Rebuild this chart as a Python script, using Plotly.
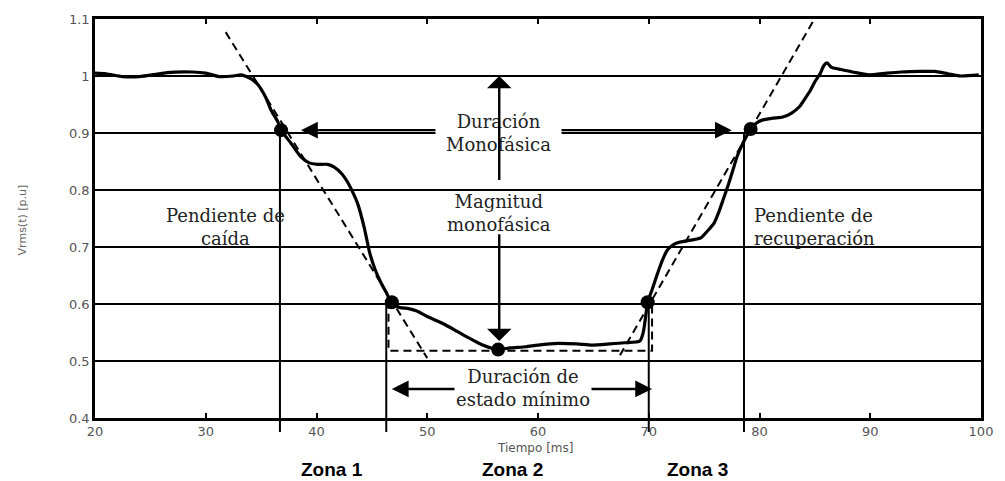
import plotly.graph_objects as go

# RMS voltage during a single-phase sag (time in ms, magnitude in p.u.)
t_ms = [20.0, 21.0, 22.5, 24.0, 25.5, 26.5, 28.8, 30.0, 31.2, 32.5, 33.2, 34.1, 34.7,
        35.4, 35.9, 36.5, 36.8, 37.7, 38.6, 39.3, 40.1, 41.0, 41.6, 42.3, 42.8, 43.3,
        43.7, 44.3, 44.8, 45.3, 45.7, 46.3, 46.8, 47.5, 48.3, 49.0, 50.0, 51.5, 52.7,
        53.8, 55.0, 56.4, 57.5, 58.9, 60.0, 61.8, 63.5, 64.9, 66.5, 67.8, 69.2, 69.5,
        69.7, 69.9, 70.3, 70.8, 71.3, 71.7, 72.3, 72.9, 73.8, 74.7, 75.3, 75.9, 76.3,
        76.7, 77.2, 77.6, 78.0, 78.5, 79.2, 79.7, 80.3, 81.2, 82.1, 82.9, 83.6, 84.1,
        84.6, 85.0, 85.5, 85.8, 86.1, 86.5, 87.2, 88.4, 89.9, 91.5, 92.8, 94.5, 95.8,
        97.0, 98.2, 99.8]
vrms = [1.005, 1.004, 0.999, 0.999, 1.003, 1.006, 1.007, 1.005, 0.999, 1.0, 1.002, 0.995,
        0.985, 0.963, 0.94, 0.92, 0.905, 0.882, 0.858, 0.848, 0.845, 0.845, 0.84, 0.828,
        0.814, 0.795, 0.777, 0.735, 0.69, 0.66, 0.642, 0.62, 0.603, 0.594, 0.592, 0.588,
        0.578, 0.565, 0.552, 0.54, 0.528, 0.52, 0.523, 0.525, 0.528, 0.531, 0.53, 0.528,
        0.53, 0.532, 0.535, 0.55, 0.575, 0.603, 0.625, 0.654, 0.68, 0.695, 0.705, 0.709,
        0.712, 0.716, 0.728, 0.742, 0.76, 0.782, 0.81, 0.835, 0.86, 0.882, 0.907, 0.917,
        0.923, 0.926, 0.928, 0.935, 0.946, 0.96, 0.975, 0.99, 1.005, 1.018, 1.023, 1.015,
        1.012, 1.007, 1.002, 1.005, 1.007, 1.008, 1.008, 1.004, 1.0, 1.002]

# Characteristic points: 90 % crossings, 60 % crossings and minimum
key_t = [36.8, 46.8, 56.4, 69.9, 79.2]
key_v = [0.905, 0.603, 0.52, 0.603, 0.907]

# Fall and recovery slope approximations
fall_t = [31.8, 50.0]
fall_v = [1.077, 0.505]
rise_t = [67.4, 84.9]
rise_v = [0.51, 1.098]

# Minimum-state box
box_t = [46.8, 46.5, 46.5, 70.3, 70.3, 69.9]
box_v = [0.6, 0.6, 0.518, 0.518, 0.6, 0.6]

# Zone boundaries (drop lines) and the level each starts from
zone_t = [36.7, 46.3, 70.0, 78.6]
zone_v = [0.9, 0.6, 0.6, 0.9]

x_ticks = [20, 30, 40, 50, 60, 70, 80, 90, 100]
y_ticks = [0.4, 0.5, 0.6, 0.7, 0.8, 0.9, 1.0, 1.1]
y_tick_text = ["0.4", "0.5", "0.6", "0.7", "0.8", "0.9", "1", "1.1"]

zones = ["Zona 1", "Zona 2", "Zona 3"]
zone_label_t = [41.4, 57.7, 74.4]

Y0, Y1 = 0.4, 1.1
dash = "8px,5px"

fig = go.Figure()
fig.add_trace(go.Scatter(x=fall_t, y=fall_v, mode="lines",
                         line=dict(color="black", width=2, dash=dash), hoverinfo="skip"))
fig.add_trace(go.Scatter(x=rise_t, y=rise_v, mode="lines",
                         line=dict(color="black", width=2, dash=dash), hoverinfo="skip"))
fig.add_trace(go.Scatter(x=box_t, y=box_v, mode="lines",
                         line=dict(color="black", width=2, dash=dash), hoverinfo="skip"))
fig.add_trace(go.Scatter(x=t_ms, y=vrms, mode="lines",
                         line=dict(color="black", width=3.2, shape="spline", smoothing=0.6)))
fig.add_trace(go.Scatter(x=key_t, y=key_v, mode="markers",
                         marker=dict(color="black", size=14)))

# Vertical zone boundaries, reaching below the time axis
for tx, vy in zip(zone_t, zone_v):
    fig.add_shape(type="line", xref="x", yref="paper",
                  x0=tx, x1=tx, y0=-0.035, y1=(vy - Y0) / (Y1 - Y0),
                  line=dict(color="black", width=2))

serif = dict(family="DejaVu Serif", size=18, color="#222")
ann = []


def arrow(x_tip, y_tip, x_tail, y_tail, head, size):
    ann.append(dict(x=x_tip, y=y_tip, ax=x_tail, ay=y_tail, xref="x", yref="y",
                    axref="x", ayref="y", text="", showarrow=True, arrowhead=head,
                    arrowsize=size, arrowwidth=2.4, arrowcolor="black", standoff=0))


# Single-phase duration double arrow at the 90 % level
arrow(38.6, 0.905, 56.5, 0.905, 2, 1.4)
arrow(77.5, 0.905, 56.5, 0.905, 2, 1.4)
ann.append(dict(x=56.4, y=0.9, xref="x", yref="y", text="Duración<br>Monofásica",
                showarrow=False, font=serif, bgcolor="white", borderpad=10))
# Minimum-state duration double arrow
arrow(46.8, 0.451, 58.6, 0.451, 2, 1.4)
arrow(70.3, 0.451, 58.6, 0.451, 2, 1.4)
ann.append(dict(x=58.6, y=0.452, xref="x", yref="y", text="Duración de<br>estado mínimo",
                showarrow=False, font=serif, bgcolor="white", borderpad=1))
# Magnitude arrows
arrow(56.5, 1.0, 56.5, 0.815, 1, 1.7)
ann.append(dict(x=56.5, y=0.76, xref="x", yref="y", text="Magnitud<br>monofásica",
                showarrow=False, font=serif))
arrow(56.5, 0.535, 56.5, 0.725, 1, 1.7)
# Slope labels
ann.append(dict(x=31.8, y=0.735, xref="x", yref="y", text="Pendiente de<br>caída",
                showarrow=False, font=serif, align="center"))
ann.append(dict(x=79.3, y=0.735, xref="x", yref="y", text="Pendiente de<br>recuperación",
                showarrow=False, font=serif, align="left", xanchor="left"))

# Axis titles
ann.append(dict(x=0.497, y=-0.075, xref="paper", yref="paper", text="Tiempo [ms]",
                xanchor="center", yanchor="middle", showarrow=False,
                font=dict(family="DejaVu Sans", size=12, color="#555")))
ann.append(dict(x=-0.082, y=0.496, xref="paper", yref="paper", text="Vrms(t) [p.u]",
                xanchor="center", yanchor="middle", textangle=-90, showarrow=False,
                font=dict(family="DejaVu Sans", size=11, color="#666")))
# Zone labels
for label, tx in zip(zones, zone_label_t):
    ann.append(dict(x=tx, y=-0.13, xref="x", yref="paper", text=label, showarrow=False,
                    xanchor="center", yanchor="middle",
                    font=dict(family="Liberation Sans", size=19, color="black",
                              weight="bold")))

tick_font = dict(family="DejaVu Sans", size=13, color="#555")
fig.update_layout(
    width=1005, height=481,
    margin=dict(l=95, r=15, t=19, b=63),
    paper_bgcolor="white", plot_bgcolor="white",
    showlegend=False,
    annotations=ann,
    xaxis=dict(range=[20, 100], tickvals=x_ticks, showgrid=False, zeroline=False,
               showline=True, linecolor="black", linewidth=2.5, mirror="ticks",
               ticks="inside", ticklen=5, tickwidth=2, tickcolor="black",
               tickfont=tick_font),
    yaxis=dict(range=[Y0, Y1], tickvals=y_ticks, ticktext=y_tick_text, showgrid=True,
               gridcolor="black", gridwidth=2, zeroline=False,
               showline=True, linecolor="black", linewidth=2.5, mirror="ticks",
               ticks="inside", ticklen=4, tickwidth=2, tickcolor="black",
               tickfont=tick_font),
)

fig.write_html("out.html")
